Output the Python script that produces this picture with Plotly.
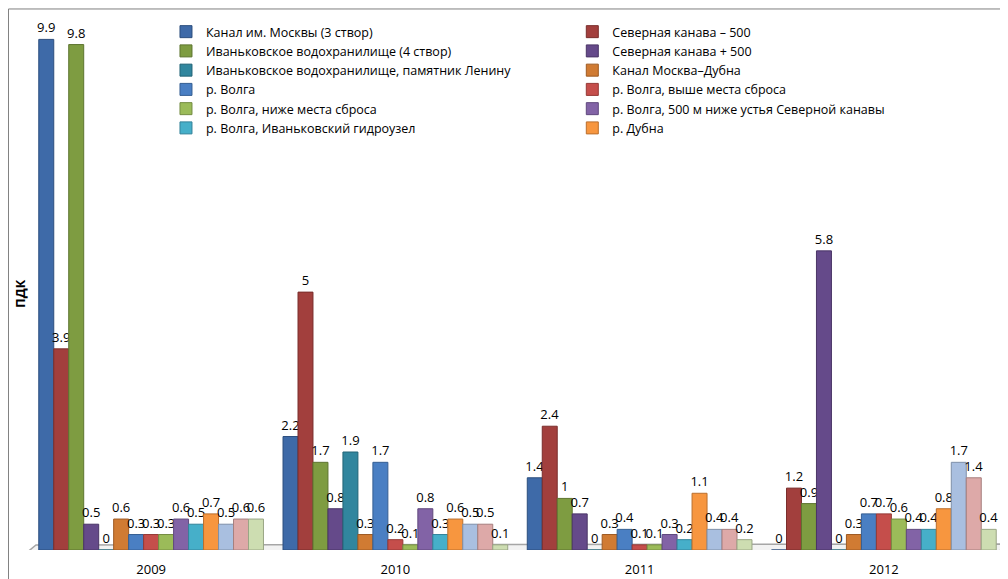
import plotly.graph_objects as go

years = ["2009", "2010", "2011", "2012"]

series_names = [
    "Канал им. Москвы (3 створ)",
    "Северная канава – 500",
    "Иваньковское водохранилище (4 створ)",
    "Северная канава + 500",
    "Иваньковское водохранилище, памятник Ленину",
    "Канал Москва–Дубна",
    "р. Волга",
    "р. Волга, выше места сброса",
    "р. Волга, ниже места сброса",
    "р. Волга, 500 м ниже устья Северной канавы",
    "р. Волга, Иваньковский гидроузел",
    "р. Дубна",
    "Ряд 13",
    "Ряд 14",
    "Ряд 15",
]

s01 = [9.9, 2.2, 1.4, 0]
s02 = [3.9, 5, 2.4, 1.2]
s03 = [9.8, 1.7, 1, 0.9]
s04 = [0.5, 0.8, 0.7, 5.8]
s05 = [0, 1.9, 0, 0]
s06 = [0.6, 0.3, 0.3, 0.3]
s07 = [0.3, 1.7, 0.4, 0.7]
s08 = [0.3, 0.2, 0.1, 0.7]
s09 = [0.3, 0.1, 0.1, 0.6]
s10 = [0.6, 0.8, 0.3, 0.4]
s11 = [0.5, 0.3, 0.2, 0.4]
s12 = [0.7, 0.6, 1.1, 0.8]
s13 = [0.5, 0.5, 0.4, 1.7]
s14 = [0.6, 0.5, 0.4, 1.4]
s15 = [0.6, 0.1, 0.2, 0.4]

values = [s01, s02, s03, s04, s05, s06, s07, s08, s09, s10, s11, s12, s13, s14, s15]
# legend column: 1 = left, 2 = right, None = not shown
legend_col = [1, 2, 1, 2, 1, 2, 1, 2, 1, 2, 1, 2, None, None, None]

colors = [
    "#3E6AA8", "#A23F3D", "#7E9C41", "#654A8A", "#31869E",
    "#D07B33", "#4A7FC3", "#C54E4B", "#9BBB59", "#8263A6",
    "#46AFC9", "#F7963F", "#A9BFE0", "#DDA9A8", "#CDDDB1",
]
edges = [
    "#2C4E7E", "#7A2E2C", "#5E7530", "#4A3566", "#236477",
    "#9E5A22", "#355F93", "#953936", "#748C42", "#60497D",
    "#33839A", "#BA6F2D", "#7F90A9", "#A67F7E", "#9AA685",
]

FONT = "Open Sans"

fig = go.Figure()
for name, vals, col, edge, lc in zip(series_names, values, colors, edges, legend_col):
    fig.add_trace(go.Bar(
        x=years, y=vals, name=name,
        showlegend=lc is not None,
        legend="legend" if lc in (1, None) else "legend2",
        marker=dict(color=col, line=dict(color=edge, width=1)),
        text=[f"{v:g}" for v in vals], textposition="outside",
        constraintext="none",
        textfont=dict(family=FONT, size=13, color="#000000"),
        cliponaxis=False,
    ))

legend_common = dict(
    orientation="v", yanchor="top", xanchor="left",
    font=dict(family=FONT, size=12.5, color="#000000"),
    traceorder="normal", bgcolor="rgba(0,0,0,0)",
    itemclick=False, itemdoubleclick=False,
)

fig.update_layout(
    width=1000, height=571,
    margin=dict(l=21, r=2, t=2, b=29, autoexpand=False),
    paper_bgcolor="white", plot_bgcolor="white",
    barmode="group", bargap=0.08, bargroupgap=0.0,
    font=dict(family=FONT, size=13, color="#000000"),
    legend=dict(x=0.1402, y=0.987, **legend_common),
    legend2=dict(x=0.5561, y=0.987, **legend_common),
    xaxis=dict(
        showgrid=False, showline=False, zeroline=False, ticks="",
        tickfont=dict(family=FONT, size=13, color="#000000"),
        ticklabelstandoff=10, automargin=False,
    ),
    yaxis=dict(
        range=[0, 10.47], showgrid=False, showline=False, zeroline=False,
        showticklabels=False, ticks="", automargin=False,
    ),
    shapes=[
        # chart border (top + left)
        dict(type="line", xref="paper", yref="paper",
             x0=-0.021, x1=1.01, y0=1.0019, y1=1.0019,
             line=dict(color="#7F7F7F", width=1)),
        dict(type="line", xref="paper", yref="paper",
             x0=-0.021, x1=-0.021, y0=-0.06, y1=1.0019,
             line=dict(color="#7F7F7F", width=1)),
        # floor
        dict(type="path", xref="paper", yref="y",
             xsizemode="pixel", ysizemode="pixel", xanchor=0, yanchor=0,
             path="M -4,-4 L 7,5 L 979,6 L 968,-3 Z",
             fillcolor="#F2F2F2", line=dict(color="#A6A6A6", width=1.5),
             layer="below"),
    ],
    annotations=[
        dict(text="<b>ПДК</b>", textangle=-90, xref="paper", yref="paper",
             x=-0.0092, y=0.474, xanchor="center", yanchor="middle",
             showarrow=False, font=dict(family=FONT, size=13, color="#000000")),
    ],
)

fig.write_html("out.html")
